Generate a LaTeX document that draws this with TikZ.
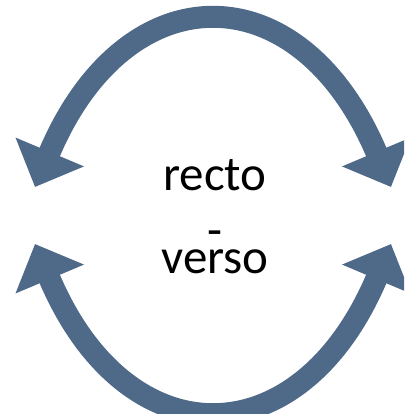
\documentclass[tikz,border=0pt]{standalone}
\usepackage{fontspec}
\setmainfont{Carlito}
\usetikzlibrary{arrows.meta}
\definecolor{swingblue}{RGB}{79,105,137}

\begin{document}
\begin{tikzpicture}[x=1pt,y=-1pt,
  swing/.style={draw=swingblue,line width=22pt,{Triangle[length=38pt,width=72pt]}-{Triangle[length=38pt,width=72pt]}},
  word/.style={font=\fontsize{49}{41.5}\selectfont,align=center,anchor=base,inner sep=0pt}]
  \useasboundingbox (0,0) rectangle (404,414);
  \clip (0,0) rectangle (404,414);

  \coordinate (lt) at (35,187);
  \coordinate (rt) at (391,187);
  \coordinate (lb) at (35,244);
  \coordinate (rb) at (391,244);

  % last line sits on the base anchor
  \node[word] (sides) at (215,273) {recto\\[14.5pt]-\\[-14.5pt]verso};

  \draw[swing] (lt) .. controls (126,-29) and (300,-29) .. (rt);
  \draw[swing] (lb) .. controls (126,460) and (300,460) .. (rb);
\end{tikzpicture}
\end{document}
